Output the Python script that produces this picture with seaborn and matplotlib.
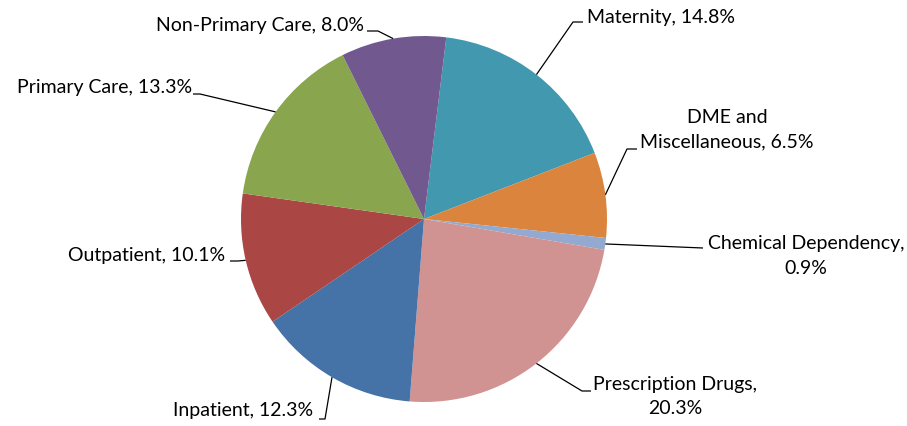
import numpy as np
import matplotlib
matplotlib.use("Agg")
import matplotlib.pyplot as plt
import seaborn as sns

# data (shares do not add up to 100, pie normalises them)
names = ["Maternity", "DME and\nMiscellaneous", "Chemical Dependency", "Prescription Drugs",
         "Inpatient", "Outpatient", "Primary Care", "Non-Primary Care"]
shares = [14.8, 6.5, 0.9, 20.3, 12.3, 10.1, 13.3, 8.0]
value_on_new_line = [False, False, True, True, False, False, False, False]
colors = ["#4198AF", "#DB843D", "#93A9CF", "#D19392", "#4572A7", "#AA4643", "#89A54E", "#71588F"]

# label layout in pixel coords: text anchor, horizontal align, elbow point, tick end
text_xy = [(587, 18), (727, 130), (806, 256), (675, 397),
           (313, 411), (225, 255), (192, 88), (364, 25)]
text_ha = ["left", "center", "center", "center", "right", "right", "right", "right"]
elbow = [(573, 23), (627, 150), (703, 249), (582, 392),
         (325, 420), (238, 262), (200, 95), (378, 32)]
tick_end = [(583, 23), (637, 150), (703, 249), (591, 392),
            (319, 420), (230, 262), (193, 95), (367, 32)]

sns.set_style("white")
plt.rcParams["font.family"] = ["Lato", "DejaVu Sans"]

W, H = 907, 427
fig = plt.figure(figsize=(W / 100, H / 100), dpi=100)
ax = fig.add_axes([0, 0, 1, 1])

cx, cy, r = 424, 220, 183
wedges, _ = ax.pie(shares, colors=colors, center=(cx, cy), radius=r,
                   startangle=-83, counterclock=True, frame=True,
                   wedgeprops=dict(linewidth=0))
ax.set_xlim(0, W)
ax.set_ylim(H, 0)  # pixel coords, y down
ax.set_aspect("equal")
ax.axis("off")

for i, w in enumerate(wedges):
    mid = np.deg2rad((w.theta1 + w.theta2) / 2)
    ex, ey = cx + r * np.cos(mid), cy + r * np.sin(mid)
    xs = [ex, elbow[i][0], tick_end[i][0]]
    ys = [ey, elbow[i][1], tick_end[i][1]]
    ax.plot(xs, ys, color="black", lw=0.9, solid_capstyle="butt")
    sep = ",\n" if value_on_new_line[i] else ", "
    label = f"{names[i]}{sep}{shares[i]:.1f}%"
    ax.text(text_xy[i][0], text_xy[i][1], label, ha=text_ha[i], va="center",
            multialignment="center", fontsize=14, linespacing=1.5, color="black")

fig.savefig("out.png", dpi=100)
